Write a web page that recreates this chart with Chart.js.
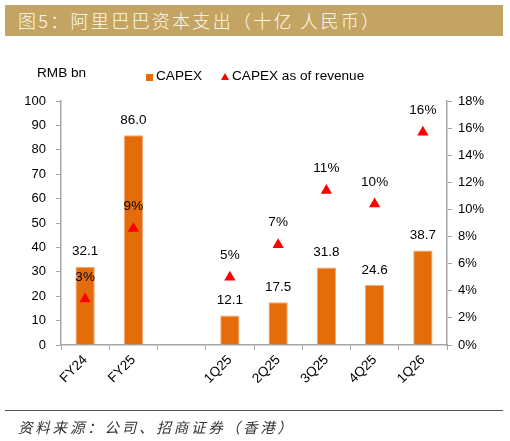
<!DOCTYPE html>
<html>
<head>
<meta charset="utf-8">
<script src="https://cdn.jsdelivr.net/npm/chart.js@4.4.0/dist/chart.umd.min.js"></script>
<style>
    body { margin: 0; background: #fff; font-family: "Liberation Sans", Arial, sans-serif; }
    #wrap { position: relative; width: 510px; height: 441px; overflow: hidden; }
    #chart { position: absolute; left: 0; top: 0; }
    .title-bar {
        position: absolute; left: 5px; top: 5px; width: 498px; height: 31px;
        background: #c3a462; color: #fffaf0;
        font-family: "Noto Sans CJK SC", sans-serif; font-size: 18px; font-weight: 300;
        line-height: 31px; letter-spacing: 2.3px; padding-left: 13px; box-sizing: border-box;
    }
    .foot-line { position: absolute; left: 5px; top: 410px; width: 498px; height: 1px; background: #555; }
    .source {
        position: absolute; left: 18px; top: 417px; font-family: "Noto Sans CJK SC", sans-serif;
        font-size: 14.5px; font-style: italic; letter-spacing: 2.8px; color: #333; line-height: 20px;
    }
    .txt { position: absolute; font-size: 13.6px; color: #000; line-height: 16px; white-space: nowrap; }
    .sq { position: absolute; width: 7px; height: 7px; background: #e46c0a; }
    .tri { position: absolute; width: 0; height: 0; border-left: 4px solid transparent;
           border-right: 4px solid transparent; border-bottom: 7px solid #ff0000; }
</style>
</head>
<body>
<div id="wrap">
    <canvas id="chart" width="510" height="441"></canvas>
    <div class="title-bar">图5：阿里巴巴资本支出（十亿 人民币）</div>
    <div class="txt" style="left:37px;top:65px;">RMB bn</div>
    <div class="sq" style="left:146px;top:74px;"></div>
    <div class="txt" style="left:156px;top:68px;">CAPEX</div>
    <div class="tri" style="left:221px;top:73px;"></div>
    <div class="txt" style="left:232px;top:68px;">CAPEX as of revenue</div>
    <div class="foot-line"></div>
    <div class="source">资料来源：公司、招商证券（香港）</div>
</div>
<script>
// categories and series
const CATEGORIES = ["FY24", "FY25", "", "1Q25", "2Q25", "3Q25", "4Q25", "1Q26"];
const CAPEX = [32.1, 86.0, null, 12.1, 17.5, 31.8, 24.6, 38.7];
const CAPEX_PCT = [3.4, 8.6, null, 5.0, 7.4, 11.4, 10.4, 15.7];
const PCT_LABELS = ["3%", "9%", "", "5%", "7%", "11%", "10%", "16%"];

const AXIS_GREY = "#a6a6a6";
const FONT = { family: "'Liberation Sans', Arial, sans-serif", size: 13 };

// draws the value labels above the bars and triangles
const valueLabels = {
    id: "valueLabels",
    afterDatasetsDraw(chart) {
        let ctx = chart.ctx;
        ctx.save();
        ctx.font = "13.5px 'Liberation Sans', Arial, sans-serif";
        ctx.fillStyle = "#000";
        ctx.textAlign = "center";
        ctx.textBaseline = "middle";
        chart.getDatasetMeta(0).data.forEach(function (bar, i) {
            if (CAPEX[i] == null) return;
            ctx.fillText(CAPEX[i].toFixed(1), bar.x, bar.y - 15);
        });
        chart.getDatasetMeta(1).data.forEach(function (pt, i) {
            if (CAPEX_PCT[i] == null) return;
            ctx.fillText(PCT_LABELS[i], pt.x, pt.y - 22);
        });
        ctx.restore();
    }
};

new Chart(document.getElementById("chart"), {
    type: "bar",
    data: {
        labels: CATEGORIES,
        datasets: [
            {
                label: "CAPEX",
                data: CAPEX,
                yAxisID: "y",
                backgroundColor: "#e46c0a",
                borderColor: "#f3a877",
                borderWidth: 1,
                categoryPercentage: 1,
                barPercentage: 0.4,
                order: 2,
            },
            {
                type: "line",
                label: "CAPEX as of revenue",
                data: CAPEX_PCT,
                yAxisID: "y1",
                showLine: false,
                pointStyle: "triangle",
                pointRadius: 6.5,
                pointBackgroundColor: "#ff0000",
                pointBorderColor: "#ff0000",
                pointBorderWidth: 0,
                order: 1,
            }
        ]
    },
    options: {
        animation: false,
        responsive: false,
        devicePixelRatio: 1,
        layout: { padding: { top: 101, bottom: 46, left: 0, right: 0 } },
        plugins: {
            legend: { display: false },
            tooltip: { enabled: false },
        },
        scales: {
            x: {
                grid: { display: true, drawOnChartArea: false, color: AXIS_GREY, tickLength: 5, offset: true },
                border: { display: true, color: AXIS_GREY, width: 1.5 },
                ticks: { font: { family: FONT.family, size: 13.5 }, color: "#000", minRotation: 45, maxRotation: 45, padding: 2 },
                afterFit: function (scale) { scale.height = 50; },
            },
            y: {
                position: "left",
                min: 0,
                max: 100,
                ticks: { stepSize: 10, font: FONT, color: "#000", padding: 10 },
                grid: { drawOnChartArea: false, color: AXIS_GREY, tickLength: 5 },
                border: { display: true, color: AXIS_GREY, width: 1.5 },
                afterFit: function (scale) { scale.width = 61; },
            },
            y1: {
                position: "right",
                min: 0,
                max: 18,
                ticks: {
                    stepSize: 2, font: FONT, color: "#000", padding: 6,
                    callback: function (value) { return value + "%"; }
                },
                grid: { drawOnChartArea: false, color: AXIS_GREY, tickLength: 5 },
                border: { display: true, color: AXIS_GREY, width: 1.5 },
                afterFit: function (scale) { scale.width = 63; },
            }
        }
    },
    plugins: [valueLabels]
});
</script>
</body>
</html>
